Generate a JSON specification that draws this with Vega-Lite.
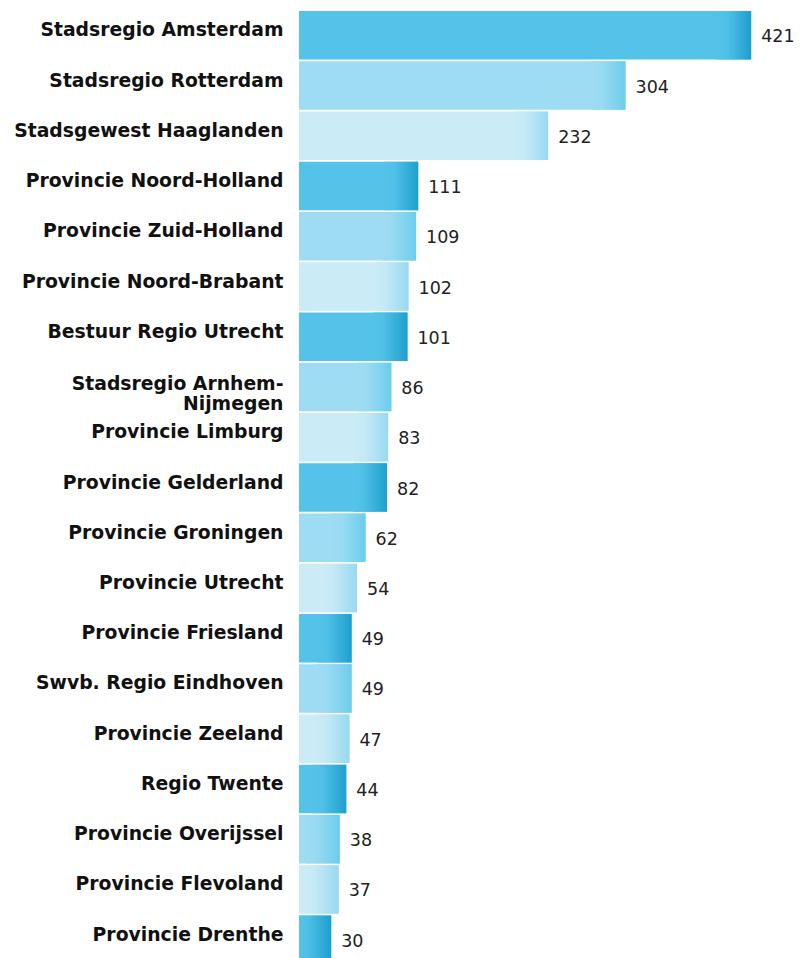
{
  "$schema": "https://vega.github.io/schema/vega-lite/v6.json",
  "autosize": {"type": "none"},
  "padding": {"left": 299, "top": 10, "right": 0, "bottom": 0},
  "width": 508,
  "height": 955,
  "background": "white",
  "config": {"view": {"stroke": null}},
  "data": {"values": [
    {"region": "Stadsregio Amsterdam", "value": 421},
    {"region": "Stadsregio Rotterdam", "value": 304},
    {"region": "Stadsgewest Haaglanden", "value": 232},
    {"region": "Provincie Noord-Holland", "value": 111},
    {"region": "Provincie Zuid-Holland", "value": 109},
    {"region": "Provincie Noord-Brabant", "value": 102},
    {"region": "Bestuur Regio Utrecht", "value": 101},
    {"region": "Stadsregio Arnhem-Nijmegen", "value": 86},
    {"region": "Provincie Limburg", "value": 83},
    {"region": "Provincie Gelderland", "value": 82},
    {"region": "Provincie Groningen", "value": 62},
    {"region": "Provincie Utrecht", "value": 54},
    {"region": "Provincie Friesland", "value": 49},
    {"region": "Swvb. Regio Eindhoven", "value": 49},
    {"region": "Provincie Zeeland", "value": 47},
    {"region": "Regio Twente", "value": 44},
    {"region": "Provincie Overijssel", "value": 38},
    {"region": "Provincie Flevoland", "value": 37},
    {"region": "Provincie Drenthe", "value": 30}
  ]},
  "encoding": {
    "y": {
      "field": "region", "type": "nominal", "sort": null,
      "scale": {"paddingInner": 0.035, "paddingOuter": 0.02},
      "axis": {
        "title": null, "domain": false, "ticks": false, "grid": false,
        "labelFont": "DejaVu Sans", "labelFontWeight": "bold", "labelFontSize": 18.8,
        "labelColor": "#111111", "labelPadding": 16, "labelLimit": 0,
        "labelLineHeight": 20,
        "labelOffset": {"condition": {"test": "datum.value == 'Stadsregio Arnhem-Nijmegen'", "value": -3}, "value": -5},
        "labelExpr": "datum.value == 'Stadsregio Arnhem-Nijmegen' ? ['Stadsregio Arnhem-', 'Nijmegen'] : datum.value"
      }
    },
    "x": {
      "field": "value", "type": "quantitative",
      "scale": {"domain": [0, 473], "nice": false},
      "axis": null
    }
  },
  "layer": [
    {
      "mark": {"type": "bar"},
      "encoding": {
        "color": {
          "field": "region", "type": "nominal", "legend": null,
          "scale": {
            "domain": ["Stadsregio Amsterdam", "Stadsregio Rotterdam", "Stadsgewest Haaglanden", "Provincie Noord-Holland", "Provincie Zuid-Holland", "Provincie Noord-Brabant", "Bestuur Regio Utrecht", "Stadsregio Arnhem-Nijmegen", "Provincie Limburg", "Provincie Gelderland", "Provincie Groningen", "Provincie Utrecht", "Provincie Friesland", "Swvb. Regio Eindhoven", "Provincie Zeeland", "Regio Twente", "Provincie Overijssel", "Provincie Flevoland", "Provincie Drenthe"],
            "range": ["#55c3e9", "#9edcf3", "#cbebf7", "#55c3e9", "#9edcf3", "#cbebf7", "#55c3e9", "#9edcf3", "#cbebf7", "#55c3e9", "#9edcf3", "#cbebf7", "#55c3e9", "#9edcf3", "#cbebf7", "#55c3e9", "#9edcf3", "#cbebf7", "#55c3e9"]
          }
        }
      }
    },
    {
      "transform": [{"filter": {"field": "region", "oneOf": ["Stadsregio Amsterdam", "Provincie Noord-Holland", "Bestuur Regio Utrecht", "Provincie Gelderland", "Provincie Friesland", "Regio Twente", "Provincie Drenthe"]}}],
      "mark": {"type": "bar", "clip": true, "xOffset": -34, "x2Offset": 0,
        "color": {"gradient": "linear", "x1": 0, "y1": 0, "x2": 1, "y2": 0,
          "stops": [{"offset": 0, "color": "#55c3e9"}, {"offset": 0.3, "color": "#50c0e7"}, {"offset": 1, "color": "#1e9fce"}]}},
      "encoding": {"x2": {"field": "value"}}
    },
    {
      "transform": [{"filter": {"field": "region", "oneOf": ["Stadsregio Rotterdam", "Provincie Zuid-Holland", "Stadsregio Arnhem-Nijmegen", "Provincie Groningen", "Swvb. Regio Eindhoven", "Provincie Overijssel"]}}],
      "mark": {"type": "bar", "clip": true, "xOffset": -34, "x2Offset": 0,
        "color": {"gradient": "linear", "x1": 0, "y1": 0, "x2": 1, "y2": 0,
          "stops": [{"offset": 0, "color": "#9edcf3"}, {"offset": 0.3, "color": "#99daf2"}, {"offset": 1, "color": "#6ccdeb"}]}},
      "encoding": {"x2": {"field": "value"}}
    },
    {
      "transform": [{"filter": {"field": "region", "oneOf": ["Stadsgewest Haaglanden", "Provincie Noord-Brabant", "Provincie Limburg", "Provincie Utrecht", "Provincie Zeeland", "Provincie Flevoland"]}}],
      "mark": {"type": "bar", "clip": true, "xOffset": -34, "x2Offset": 0,
        "color": {"gradient": "linear", "x1": 0, "y1": 0, "x2": 1, "y2": 0,
          "stops": [{"offset": 0, "color": "#cbebf7"}, {"offset": 0.3, "color": "#c5e9f6"}, {"offset": 1, "color": "#98d9f1"}]}},
      "encoding": {"x2": {"field": "value"}}
    },
    {
      "mark": {"type": "text", "align": "left", "baseline": "middle", "dx": 10, "dy": 2,
        "font": "DejaVu Sans", "fontSize": 17.5, "color": "#222222"},
      "encoding": {"text": {"field": "value", "type": "quantitative"}}
    }
  ]
}
